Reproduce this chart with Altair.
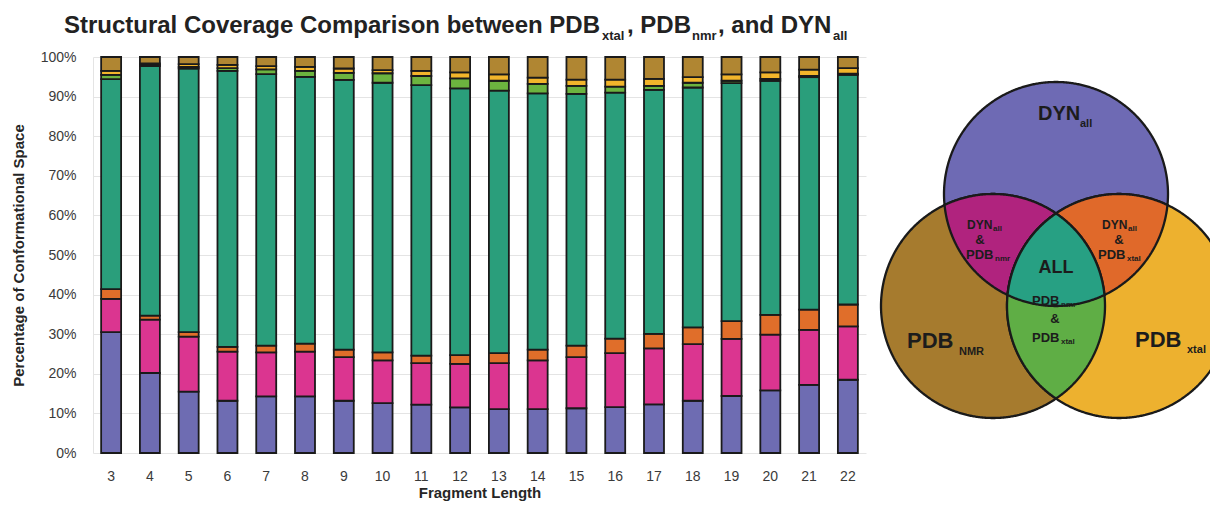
import numpy as np
import pandas as pd
import altair as alt

FONT = "Liberation Sans"

# ---------------- data (percent of conformational space) ----------------
lengths = list(range(3, 23))
categories = ["DYN_all", "DYN_all & PDB_nmr", "DYN_all & PDB_xtal", "ALL",
              "PDB_nmr & PDB_xtal", "PDB_xtal", "PDB_nmr"]
dyn_only = [30.5, 20.2, 15.5, 13.2, 14.3, 14.3, 13.2, 12.6, 12.2, 11.5,
            11.1, 11.1, 11.3, 11.6, 12.3, 13.2, 14.4, 15.8, 17.2, 18.5]
dyn_nmr = [8.4, 13.5, 13.9, 12.4, 11.1, 11.3, 11.0, 10.8, 10.5, 11.0,
           11.6, 12.3, 12.9, 13.6, 14.1, 14.3, 14.4, 14.1, 13.9, 13.5]
dyn_xtal = [2.5, 1.0, 1.1, 1.2, 1.7, 2.0, 1.9, 2.0, 1.9, 2.2,
            2.5, 2.7, 2.9, 3.7, 3.7, 4.2, 4.5, 5.0, 5.1, 5.5]
all_three = [53.0, 63.0, 66.6, 69.7, 68.6, 67.4, 68.1, 68.1, 68.3, 67.4,
             66.3, 64.7, 63.6, 62.1, 61.6, 60.6, 60.1, 59.1, 58.7, 58.0]
nmr_xtal = [1.1, 0.3, 0.4, 0.7, 1.2, 1.5, 1.8, 2.4, 2.3, 2.5,
            2.5, 2.4, 2.0, 1.5, 1.0, 1.2, 0.6, 0.5, 0.3, 0.3]
xtal_only = [1.0, 0.4, 0.7, 0.8, 0.8, 1.0, 1.1, 0.8, 1.3, 1.5,
             1.6, 1.6, 1.6, 1.8, 1.8, 1.4, 1.6, 1.6, 1.6, 1.4]
nmr_only = [3.5, 1.6, 1.8, 2.0, 2.3, 2.5, 2.9, 3.3, 3.5, 3.9,
            4.4, 5.2, 5.7, 5.7, 5.5, 5.1, 4.4, 3.9, 3.2, 2.8]
series = [dyn_only, dyn_nmr, dyn_xtal, all_three, nmr_xtal, xtal_only, nmr_only]
bar_colors = ["#6E6CB2", "#DB3590", "#E06E2A", "#2A9E7B", "#6CB43F", "#F2B52B", "#B08632"]
y_ticks = list(range(0, 101, 10))

rows = []
for k, (cat, vals) in enumerate(zip(categories, series)):
    for L, v in zip(lengths, vals):
        rows.append({"length": L, "category": cat, "value": v, "ord": k})
df = pd.DataFrame(rows)

# ---------------- bar chart ----------------
bars = alt.Chart(df).mark_bar(stroke="#1a1a1a", strokeWidth=1.8).encode(
    x=alt.X("length:O", sort=lengths,
            scale=alt.Scale(paddingInner=0.485, paddingOuter=0.21),
            axis=alt.Axis(title="Fragment Length", labelAngle=0, ticks=False, domain=False,
                          labelFont=FONT, labelFontSize=14, labelColor="#3a3a3a", labelPadding=16,
                          titleFont=FONT, titleFontSize=15, titleFontWeight="bold",
                          titleColor="#262626", titlePadding=2)),
    y=alt.Y("value:Q", stack="zero",
            scale=alt.Scale(domain=[0, 100], nice=False),
            axis=alt.Axis(values=y_ticks, labelExpr="datum.value + '%'", ticks=False,
                          domain=True, domainColor="#e4e4e4", grid=True, gridColor="#e4e4e4",
                          labelFont=FONT, labelFontSize=14, labelColor="#3a3a3a", labelPadding=17,
                          title="Percentage of Conformational Space", titleFont=FONT,
                          titleFontSize=15, titleFontWeight="bold", titleColor="#262626",
                          titlePadding=14)),
    color=alt.Color("category:N", scale=alt.Scale(domain=categories, range=bar_colors), legend=None),
    order=alt.Order("ord:Q"),
)

one = pd.DataFrame({"k": [0]})


def txt(s, x, y, size, align="left", weight="bold", color="#1c1c1c"):
    return alt.Chart(one).mark_text(text=s, fontSize=size, font=FONT, fontWeight=weight,
                                    align=align, baseline="alphabetic", color=color).encode(
        x=alt.value(x), y=alt.value(y))


layers = [bars]

# ---------------- title with subscripts ----------------
layers += [
    txt("Structural Coverage Comparison between PDB", 507, -24, 24, align="right", color="#222222"),
    txt("xtal", 509, -17, 13, color="#222222"),
    txt(", PDB", 534, -24, 24, color="#222222"),
    txt("nmr", 599, -17, 13, color="#222222"),
    txt(", and DYN", 625, -24, 24, color="#222222"),
    txt("all", 740, -17, 13, color="#222222"),
]

# ---------------- Venn diagram ----------------
R = 112.0
centers = {"DYN": (963.0, 137.0), "NMR": (900.0, 249.0), "XTAL": (1026.0, 249.0)}
K = 100.0


def inside(p, c, tol=1e-6):
    return np.hypot(p[:, 0] - c[0], p[:, 1] - c[1]) <= R + tol


def region(names):
    th = np.linspace(0, 2 * np.pi, 720, endpoint=False)
    pts = []
    for n in names:
        c = centers[n]
        p = np.stack([c[0] + R * np.cos(th), c[1] + R * np.sin(th)], axis=1)
        mask = np.ones(len(p), bool)
        for m in names:
            if m != n:
                mask &= inside(p, centers[m])
        pts.append(p[mask])
    for i in range(len(names)):
        for j in range(i + 1, len(names)):
            a = np.array(centers[names[i]]); b = np.array(centers[names[j]])
            d = np.linalg.norm(b - a)
            mid = (a + b) / 2
            h = np.sqrt(R * R - (d / 2) ** 2)
            u = (b - a) / d
            perp = np.array([-u[1], u[0]])
            cand = np.array([mid + h * perp, mid - h * perp])
            mask = np.ones(2, bool)
            for m in names:
                if m not in (names[i], names[j]):
                    mask &= inside(cand, centers[m], tol=1e-3)
            pts.append(cand[mask])
    P = np.concatenate(pts)
    c0 = P.mean(axis=0)
    ang = np.arctan2(P[:, 1] - c0[1], P[:, 0] - c0[0])
    P = P[np.argsort(ang)]
    q = (P - c0) / K
    path = "M" + " L".join(f"{x:.4f},{y:.4f}" for x, y in q) + " Z"
    return path, c0


venn_regions = [
    (["DYN"], "#6E6AB4"),
    (["NMR"], "#A67B2E"),
    (["XTAL"], "#EDB12F"),
    (["DYN", "NMR"], "#B0237E"),
    (["DYN", "XTAL"], "#E0692A"),
    (["NMR", "XTAL"], "#5FAE45"),
    (["DYN", "NMR", "XTAL"], "#27A083"),
]
for names, col in venn_regions:
    path, c0 = region(names)
    layers.append(
        alt.Chart(one).mark_point(shape=path, size=(2 * K) ** 2, filled=True, fill=col,
                                  stroke="#1a1a1a", strokeWidth=2.3, opacity=1,
                                  fillOpacity=1, strokeOpacity=1).encode(
            x=alt.value(float(c0[0])), y=alt.value(float(c0[1])))
    )

# Venn labels
layers += [
    txt("DYN", 945, 63, 20), txt("all", 987, 70, 11),
    txt("PDB", 814, 291, 22), txt("NMR", 866, 298, 11),
    txt("PDB", 1042, 290, 22), txt("xtal", 1094, 296, 11),
    txt("ALL", 963, 216, 18, align="center"),
    txt("DYN", 874, 172, 12), txt("all", 900, 174, 8), txt("&", 887, 187, 13, align="center"),
    txt("PDB", 873, 202, 13), txt("nmr", 902, 204, 8),
    txt("DYN", 1009, 172, 12), txt("all", 1035, 174, 8), txt("&", 1026, 187, 13, align="center"),
    txt("PDB", 1005, 202, 13), txt("xtal", 1034, 204, 8),
    txt("PDB", 939, 248, 13), txt("nmr", 968, 250, 8), txt("&", 962, 266, 13, align="center"),
    txt("PDB", 939, 285, 13), txt("xtal", 968, 287, 8),
]

chart = alt.layer(*layers).properties(
    width=773, height=396,
    autosize=alt.AutoSizeParams(type="none"),
    padding={"left": 85, "top": 49, "right": 344, "bottom": 49},
).configure_view(stroke=None)

chart.save("out.html", embed_options={"renderer": "svg", "actions": False})
